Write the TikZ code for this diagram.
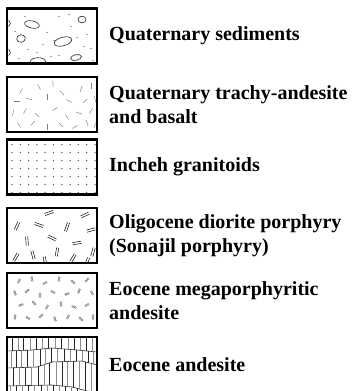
\documentclass[tikz,border=0pt]{standalone}
\usepackage{fontspec}
\setmainfont{Liberation Serif}
\usetikzlibrary{positioning}

\tikzset{
  legbox/.style={draw,line width=2.8pt,minimum width=90pt,minimum height=55pt,inner sep=0pt,outer sep=0pt},
  legtext/.style={font=\fontsize{20}{24}\selectfont\bfseries,align=left,inner sep=0pt},
  pat/.style={line width=0.6pt,black!85},
  patlight/.style={line width=0.5pt,black!50},
  column/.style={line width=0.6pt,black!#1},
}

\begin{document}
\begin{tikzpicture}[x=1pt,y=-1pt]
  \useasboundingbox (0,0) rectangle (357,391);
  % legend boxes
  \node[legbox] (b1) at (52,36) {};
  \node[legbox] (b2) at (52,104.5) {};
  \node[legbox] (b3) at (52,167) {};
  \node[legbox] (b4) at (52,235.5) {};
  \node[legbox] (b5) at (52,300.5) {};
  \node[legbox] (b6) at (52,364.5) {};
  % labels
  \node[legtext,right=12pt of b1] (t1) {Quaternary sediments};
  \node[legtext,right=12pt of b2] (t2) {Quaternary trachy-andesite\\and basalt};
  \node[legtext,right=12pt of b3] (t3) {Incheh granitoids};
  \node[legtext,right=12pt of b4] (t4) {Oligocene diorite porphyry\\(Sonajil porphyry)};
  \node[legtext,right=12pt of b5] (t5) {Eocene megaporphyritic\\andesite};
  \node[legtext,right=12pt of b6] (t6) {Eocene andesite};

  % sediments: pebbles and grains
  \begin{scope}[shift={(b1.north west)}]
    \clip (1.4,1.4) rectangle (88.6,53.6);
    \foreach \x/\y/\rx/\ry/\a in {25/16/7.5/3.6/-12, 75/11/4/3.3/0, 14/30/4.3/3.8/10,
      56/33/9/4.3/15, 31/53/7.5/3.8/0, 69/49/5.5/2.8/12, 0/15/3.3/3.3/0, 0/44/3.3/3.3/0}
      \draw[pat,rotate around={\a:(\x,\y)}] (\x,\y) ellipse (\rx pt and \ry pt);
    \foreach \x/\y in {52/8,64/18,40/24,8/23,80/26,47/32,21/41,36/36,84/40,
      52/47,12/50,86/52,70/29,30/44,62/6,18/8,44/48,77/38}
      \fill[black!70] (\x,\y) circle (0.6pt);
  \end{scope}

  % trachy-andesite: short dashes
  \begin{scope}[shift={(b2.north west)}]
    \clip (1.4,1.4) rectangle (88.6,53.6);
    \foreach \x/\y/\a in {14/14/60,32/10/120,46/7/95,55/16/130,74/12/70,84/9/90,
      10/24/0,22/22/170,40/20/90,62/24/150,78/24/40,88/22/100,
      6/36/80,18/34/60,30/38/140,48/32/30,60/40/120,72/36/160,84/34/60,
      12/48/120,26/46/50,40/50/90,54/48/140,68/50/30,80/46/110,88/48/70}
      \draw[patlight] (\x,\y) ++(\a:3pt) -- ++(\a+180:6pt);
  \end{scope}

  % granitoids: dot grid
  \begin{scope}[shift={(b3.north west)}]
    \clip (1.4,1.4) rectangle (88.6,53.6);
    \foreach \x in {5,13.3,...,90}
      \foreach \y in {5,13,...,54}
        \fill[black!65] (\x,\y) circle (0.75pt);
  \end{scope}

  % diorite porphyry: paired strokes
  \begin{scope}[shift={(b4.north west)}]
    \clip (1.4,1.4) rectangle (88.6,53.6);
    \foreach \x/\y/\a in {42/5/20,78/7/25,10/18/65,32/17/-20,60/19/70,84/22/15,
      20/33/95,45/30/-25,70/35/10,86/44/75,26/47/105,50/44/80,66/50/60,9/49/60,
      38/53/100,80/54/70}
      \draw[pat] (\x,\y) ++(\a:4.5pt) ++(\a+90:1.1pt) -- ++(\a+180:9pt)
                 (\x,\y) ++(\a:4.5pt) ++(\a-90:1.1pt) -- ++(\a+180:9pt);
  \end{scope}

  % megaporphyritic andesite: small twin crystals
  \begin{scope}[shift={(b5.north west)}]
    \clip (1.4,1.4) rectangle (88.6,53.6);
    \foreach \x/\y/\a in {12/8/60,25/6/100,38/10/30,52/6/80,66/9/140,80/7/45,
      8/20/110,20/18/40,33/22/90,46/19/150,60/21/20,72/18/70,85/20/120,
      14/32/20,27/30/130,40/34/60,54/31/100,67/34/160,80/32/30,
      8/44/80,21/45/150,34/43/40,48/46/110,61/44/60,74/46/140,86/44/90}
      \draw[patlight] (\x,\y) ++(\a:1.3pt) circle (1.1pt)
                      (\x,\y) ++(\a+180:1.3pt) circle (1.1pt);
  \end{scope}

  % eocene andesite: columnar joints
  \begin{scope}[shift={(b6.north west)}]
    \clip (1.4,1.4) rectangle (88.6,60);
    \draw[pat] (0,14) -- (25,13) -- (45,11) -- (70,13) -- (90,15);
    \draw[pat] (0,31) -- (30,30) -- (45,25) -- (75,24) -- (90,28);
    \draw[pat] (0,49) -- (45,48) -- (65,50) -- (80,54) -- (90,55);
    \begin{scope}
      \clip (0,0) -- (90,0) -- (90,15) -- (70,13) -- (45,11) -- (25,13) -- (0,14) -- cycle;
      \foreach \x [count=\i, evaluate=\i as \sh using {int(45+40*mod(\i,2))}]
          in {5,11,16,23,29,35,41,48,54,61,67,73,79,85}
        \draw[column=\sh] (\x,0) -- (\x,20);
    \end{scope}
    \begin{scope}
      \clip (0,14) -- (25,13) -- (45,11) -- (70,13) -- (90,15) -- (90,28) -- (75,24) -- (45,25) -- (30,30) -- (0,31) -- cycle;
      \foreach \x [count=\i, evaluate=\i as \sh using {int(85-40*mod(\i,2))}]
          in {4,9,14,20,26,33,38,44,50,57,63,69,75,81,86}
        \draw[column=\sh] (\x,8) -- (\x,35);
    \end{scope}
    \begin{scope}
      \clip (0,31) -- (30,30) -- (45,25) -- (75,24) -- (90,28) -- (90,55) -- (80,54) -- (65,50) -- (45,48) -- (0,49) -- cycle;
      \foreach \x [count=\i, evaluate=\i as \sh using {int(45+40*mod(\i,2))}]
          in {6,12,18,24,31,37,42,49,55,60,66,72,78,84}
        \draw[column=\sh] (\x,20) -- (\x,58);
    \end{scope}
    \begin{scope}
      \clip (0,49) -- (45,48) -- (65,50) -- (80,54) -- (90,55) -- (90,60) -- (0,60) -- cycle;
      \foreach \x [count=\i, evaluate=\i as \sh using {int(85-40*mod(\i,2))}]
          in {3,9,15,21,27,34,40,46,52,58,64,70,77,83,88}
        \draw[column=\sh] (\x,45) -- (\x,60);
    \end{scope}
  \end{scope}
\end{tikzpicture}
\end{document}
